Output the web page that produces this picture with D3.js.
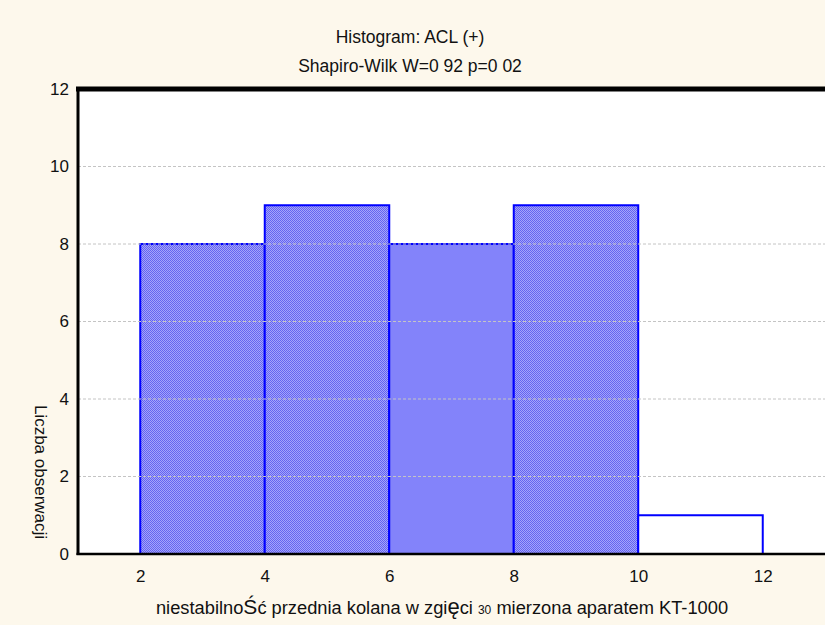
<!DOCTYPE html>
<html>
<head>
<meta charset="utf-8">
<script src="https://cdn.jsdelivr.net/npm/d3@7"></script>
<style>
  html, body { margin: 0; padding: 0; background: #fdf8ec; }
  svg { display: block; }
  text { font-family: "Liberation Sans", Arial, sans-serif; fill: #111; }
</style>
</head>
<body>
<svg id="chart" width="825" height="625"></svg>
<script>
// Histogram bins (lower and upper edge) and observation counts
const binStart = [2, 4, 6, 8, 10];
const binEnd   = [4, 6, 8, 10, 12];
const counts   = [8, 9, 8, 9, 1];
const xTicks = [2, 4, 6, 8, 10, 12];
const yTicks = [0, 2, 4, 6, 8, 10, 12];
const gridValues = [2, 4, 6, 8, 10];

const title = "Histogram: ACL (+)";
const subtitle = "Shapiro-Wilk W=0 92 p=0 02";
const yLabel = "Liczba obserwacji";

const W = 825, H = 625;
const plot = { left: 78, right: 825, top: 89, bottom: 554 };

const svg = d3.select("#chart");

const x = d3.scaleLinear().domain([1, 13]).range([plot.left, plot.right]);
const y = d3.scaleLinear().domain([0, 12]).range([plot.bottom, plot.top]);

// Dithered fill used by the histogram bars
const defs = svg.append("defs");
const pat = defs.append("pattern")
  .attr("id", "dither").attr("patternUnits", "userSpaceOnUse")
  .attr("width", 2).attr("height", 2);
pat.append("rect").attr("width", 2).attr("height", 2).attr("fill", "#a4a4fb");
pat.append("rect").attr("width", 1).attr("height", 1).attr("fill", "#6464f0");
pat.append("rect").attr("x", 1).attr("y", 1).attr("width", 1).attr("height", 1).attr("fill", "#6464f0");

// Plot area
svg.append("rect")
  .attr("x", plot.left).attr("y", plot.top)
  .attr("width", plot.right - plot.left).attr("height", plot.bottom - plot.top)
  .attr("fill", "#ffffff");

// Bars
const bins = counts.map((c, i) => ({ x0: binStart[i], x1: binEnd[i], n: c, i }));
svg.append("g").selectAll("rect").data(bins).join("rect")
  .attr("x", d => x(d.x0))
  .attr("y", d => y(d.n))
  .attr("width", d => x(d.x1) - x(d.x0))
  .attr("height", d => y(0) - y(d.n))
  .attr("fill", d => d.n <= 1 ? "#ffffff" : (d.i === 2 ? "#8383fa" : "url(#dither)"))
  .attr("stroke", "#0000ff")
  .attr("stroke-width", 2);

// Horizontal grid lines
svg.append("g").selectAll("line").data(gridValues).join("line")
  .attr("x1", plot.left).attr("x2", plot.right)
  .attr("y1", d => y(d)).attr("y2", d => y(d))
  .attr("stroke", "#c4c4c4")
  .attr("stroke-width", 1)
  .attr("stroke-dasharray", "3,2");

// Frame: thick top, left and bottom lines
svg.append("line").attr("x1", plot.left - 2).attr("x2", plot.right)
  .attr("y1", plot.top).attr("y2", plot.top)
  .attr("stroke", "#000").attr("stroke-width", 5);
svg.append("line").attr("x1", plot.left).attr("x2", plot.left)
  .attr("y1", plot.top).attr("y2", plot.bottom + 1)
  .attr("stroke", "#000").attr("stroke-width", 3);
svg.append("line").attr("x1", plot.left - 1.5).attr("x2", plot.right)
  .attr("y1", plot.bottom).attr("y2", plot.bottom)
  .attr("stroke", "#000").attr("stroke-width", 2.5);

// Axes (labels only)
const xAxis = d3.axisBottom(x).tickValues(xTicks).tickSize(0).tickPadding(16);
const gx = svg.append("g").attr("transform", `translate(0,${plot.bottom})`).call(xAxis);
const yAxis = d3.axisLeft(y).tickValues(yTicks).tickSize(0).tickPadding(9);
const gy = svg.append("g").attr("transform", `translate(${plot.left},0)`).call(yAxis);
[gx, gy].forEach(g => {
  g.select(".domain").remove();
  g.selectAll("text").attr("font-size", 17)
    .attr("font-family", "'Liberation Sans', Arial, sans-serif").attr("fill", "#111");
});

// Titles
svg.append("text").attr("x", 410).attr("y", 43).attr("text-anchor", "middle")
  .attr("font-size", 17.5).text(title);
svg.append("text").attr("x", 410).attr("y", 72).attr("text-anchor", "middle")
  .attr("font-size", 17.5).text(subtitle);

// Y axis label, reading top to bottom
svg.append("text")
  .attr("transform", "translate(35,472) rotate(90)")
  .attr("text-anchor", "middle")
  .attr("font-size", 17)
  .text(yLabel);

// X axis label with mixed glyph sizes
const xl = svg.append("text").attr("x", 442).attr("y", 614)
  .attr("text-anchor", "middle").attr("font-size", 18.3);
xl.append("tspan").text("niestabilno");
xl.append("tspan").attr("font-size", 21).text("Ś");
xl.append("tspan").text("ć przednia kolana w zgi");
xl.append("tspan").attr("font-size", 22).text("ę");
xl.append("tspan").text("ci ");
xl.append("tspan").attr("font-size", 12).text("30");
xl.append("tspan").text(" mierzona aparatem KT-1000");
</script>
</body>
</html>
